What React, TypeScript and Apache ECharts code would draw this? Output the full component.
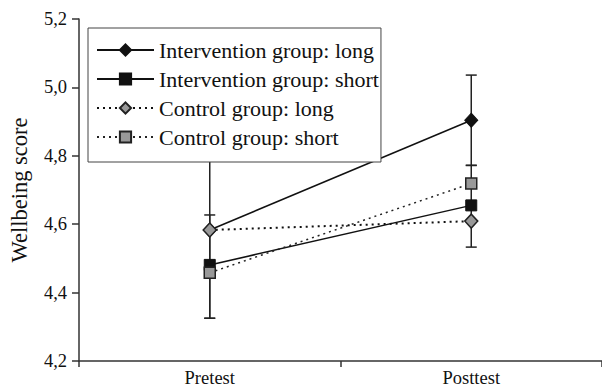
import React, { useEffect, useRef } from "react";
import * as echarts from "echarts";

const categories = ["Pretest", "Posttest"];
const yTicks = [4.2, 4.4, 4.6, 4.8, 5.0, 5.2];

const seriesNames = [
  "Intervention group: long",
  "Intervention group: short",
  "Control group: long",
  "Control group: short",
];
const interventionLong = [4.583, 4.904];
const interventionShort = [4.481, 4.655];
const controlLong = [4.583, 4.609];
const controlShort = [4.458, 4.719];

// error bars [low, high] per category
const interventionLongErr = [
  [4.325, 4.84],
  [4.772, 5.036],
];
const interventionShortErr = [
  [4.325, 4.627],
  [4.533, 4.772],
];

const FONT = "'Liberation Serif', 'DejaVu Serif', serif";

export default function App() {
  const ref = useRef<HTMLDivElement>(null);
  useEffect(() => {
    if (!ref.current) return;
    const chart = echarts.init(ref.current, null, { renderer: "svg" });
    const errData: number[][] = [];
    [interventionLongErr, interventionShortErr].forEach((arr) =>
      arr.forEach((e, i) => errData.push([i, e[0], e[1]]))
    );
    const capStyle = { stroke: "#222", lineWidth: 1.5 };
    chart.setOption({
      animation: false,
      backgroundColor: "#fff",
      textStyle: { fontFamily: FONT },
      grid: { left: 78, top: 19, width: 532, height: 345 },
      legend: {
        orient: "vertical",
        left: 88,
        top: 28,
        data: seriesNames,
        backgroundColor: "#fff",
        borderColor: "#444",
        borderWidth: 1,
        padding: [11, 2, 14, 8],
        itemWidth: 57,
        itemHeight: 14,
        itemGap: 7,
        z: 10,
        textStyle: { fontFamily: FONT, fontSize: 22, color: "#111", lineHeight: 22 },
      },
      xAxis: {
        type: "category",
        data: categories,
        boundaryGap: true,
        axisLine: { lineStyle: { color: "#333", width: 1.5 } },
        axisTick: { show: true, length: 6, lineStyle: { color: "#333", width: 1.5 } },
        axisLabel: { fontFamily: FONT, fontSize: 18.5, color: "#111", margin: 7 },
      },
      yAxis: {
        type: "value",
        min: 4.2,
        max: 5.2,
        interval: 0.2,
        name: "Wellbeing score",
        nameLocation: "middle",
        nameGap: 48,
        nameTextStyle: { fontFamily: FONT, fontSize: 22.5, color: "#111" },
        splitLine: { show: false },
        axisLine: { show: true, lineStyle: { color: "#333", width: 1.5 } },
        axisTick: { show: true, length: 7, lineStyle: { color: "#333", width: 1.5 } },
        axisLabel: {
          fontFamily: FONT,
          fontSize: 18.5,
          color: "#111",
          margin: 12,
          formatter: (v: number) => {
            const t = yTicks.find((x) => Math.abs(x - v) < 1e-6);
            return (t !== undefined ? t : v).toFixed(1).replace(".", ",");
          },
        },
      },
      series: [
        {
          type: "custom",
          name: "err",
          z: 1,
          data: errData,
          encode: { x: 0, y: [1, 2] },
          renderItem: (params: any, api: any) => {
            const x = api.value(0);
            const p1 = api.coord([x, api.value(1)]);
            const p2 = api.coord([x, api.value(2)]);
            const w = 5.5;
            return {
              type: "group",
              children: [
                { type: "line", shape: { x1: p1[0], y1: p1[1], x2: p2[0], y2: p2[1] }, style: capStyle },
                { type: "line", shape: { x1: p1[0] - w, y1: p1[1], x2: p1[0] + w, y2: p1[1] }, style: capStyle },
                { type: "line", shape: { x1: p2[0] - w, y1: p2[1], x2: p2[0] + w, y2: p2[1] }, style: capStyle },
              ],
            };
          },
        },
        {
          type: "line",
          name: seriesNames[0],
          data: interventionLong,
          z: 3,
          symbol: "diamond",
          symbolSize: [13, 14],
          lineStyle: { color: "#111", width: 1.5, type: "solid" },
          itemStyle: { color: "#111", borderColor: "#111", borderWidth: 1 },
        },
        {
          type: "line",
          name: seriesNames[1],
          data: interventionShort,
          z: 3,
          symbol: "rect",
          symbolSize: 11,
          lineStyle: { color: "#111", width: 1.5, type: "solid" },
          itemStyle: { color: "#111", borderColor: "#111", borderWidth: 1 },
        },
        {
          type: "line",
          name: seriesNames[2],
          data: controlLong,
          z: 3,
          symbol: "diamond",
          symbolSize: [13, 14],
          lineStyle: { color: "#111", width: 2, type: [2, 4] },
          itemStyle: { color: "#999", borderColor: "#222", borderWidth: 1.5 },
        },
        {
          type: "line",
          name: seriesNames[3],
          data: controlShort,
          z: 3,
          symbol: "rect",
          symbolSize: 11,
          lineStyle: { color: "#222", width: 1.5, type: [2, 4] },
          itemStyle: { color: "#999", borderColor: "#222", borderWidth: 1.5 },
        },
      ],
    });
    return () => chart.dispose();
  }, []);
  return (
    <div
      ref={ref}
      style={{ position: "fixed", left: 0, top: 0, width: 602, height: 387, background: "#fff" }}
    />
  );
}
